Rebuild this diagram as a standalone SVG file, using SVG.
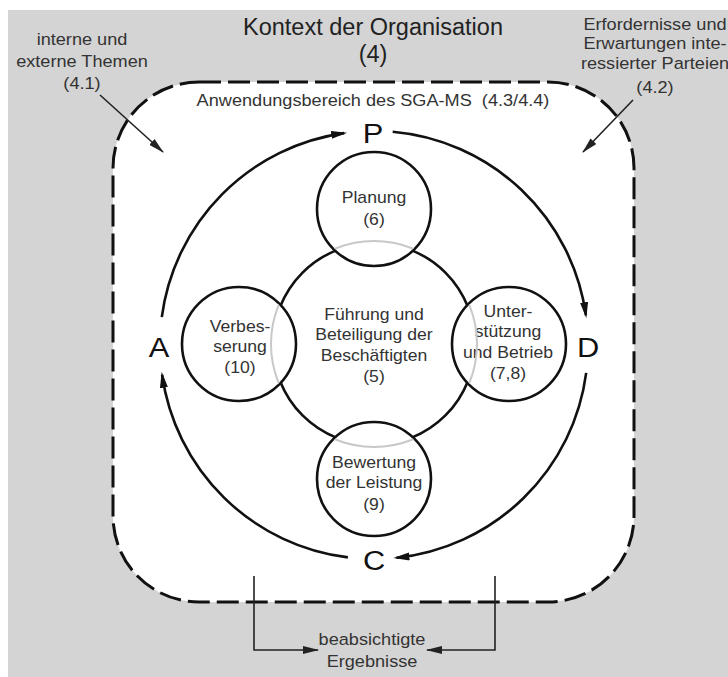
<svg xmlns="http://www.w3.org/2000/svg" width="728" height="677" viewBox="0 0 728 677">
  <defs>
    <style>
      .lbl { font-family: "Liberation Sans", Arial, sans-serif; font-size: 16.5px; fill: #333; text-anchor: middle; }
      .in { font-family: "Liberation Sans", Arial, sans-serif; font-size: 16px; fill: #333; text-anchor: middle; }
      .big { font-family: "Liberation Sans", Arial, sans-serif; font-size: 28px; fill: #111; text-anchor: middle; }
      .title { font-family: "Liberation Sans", Arial, sans-serif; font-size: 23.5px; fill: #222; text-anchor: middle; }
      .circ { fill: #fff; stroke: #111; stroke-width: 2.6; }
      .arc { fill: none; stroke: #111; stroke-width: 2.6; }
      .thin { fill: none; stroke: #222; stroke-width: 1.6; }
    </style>
    <marker id="ah" viewBox="0 0 16 8" refX="13" refY="4" markerWidth="16" markerHeight="8" markerUnits="userSpaceOnUse" orient="auto">
      <path d="M0,0 L16,4 L0,8 z" fill="#111"/>
    </marker>
    <marker id="ahs" viewBox="0 0 16 8" refX="15" refY="4" markerWidth="16" markerHeight="8" markerUnits="userSpaceOnUse" orient="auto">
      <path d="M0,0 L16,4 L0,8 z" fill="#222"/>
    </marker>
    <clipPath id="smallc">
      <circle cx="374" cy="209" r="56"/>
      <circle cx="509" cy="344" r="56"/>
      <circle cx="374" cy="479" r="56"/>
      <circle cx="239" cy="344" r="56"/>
    </clipPath>
  </defs>

  <rect x="0" y="0" width="728" height="677" fill="#ffffff"/>
  <rect x="8" y="10" width="720" height="667" fill="#d4d4d4"/>

  <g id="context">
    <text class="title" x="373" y="35">Kontext der Organisation</text>
    <text class="title" x="373" y="62">(4)</text>
  </g>

  <g id="themen">
    <text class="lbl" transform="translate(82 45) scale(1.1 1)"><tspan x="0" y="0">interne und</tspan><tspan x="0" y="22">externe Themen</tspan><tspan x="0" y="44">(4.1)</tspan></text>
  </g>

  <g id="parteien">
    <text class="lbl" transform="translate(655 30) scale(1.1 1)"><tspan x="0" y="0">Erfordernisse und</tspan><tspan x="0" y="19.5">Erwartungen inte-</tspan><tspan x="0" y="39">ressierter Parteien</tspan><tspan x="0" y="63">(4.2)</tspan></text>
  </g>

  <g id="scope">
    <rect x="113" y="82" width="521" height="520" rx="86" ry="86" fill="#ffffff" stroke="#111" stroke-width="3" stroke-dasharray="22 7"/>
    <text class="lbl" style="white-space:pre" transform="translate(373 106) scale(1.1 1)">Anwendungsbereich des SGA-MS  (4.3/4.4)</text>
  </g>

  <g id="fuehrung">
    <circle cx="374" cy="344" r="101" fill="#fff" stroke="#111" stroke-width="2.6"/>
  </g>

  <g id="planung">
    <circle class="circ" cx="374" cy="209" r="57"/>
    <text class="in" transform="translate(374 203) scale(1.1 1)"><tspan x="0" y="0">Planung</tspan><tspan x="0" y="22">(6)</tspan></text>
  </g>

  <g id="unterstuetzung">
    <circle class="circ" cx="509" cy="344" r="57"/>
    <text class="in" transform="translate(508 317) scale(1.1 1)"><tspan x="0" y="0">Unter-</tspan><tspan x="0" y="20.5">stützung</tspan><tspan x="0" y="41">und Betrieb</tspan><tspan x="0" y="62">(7,8)</tspan></text>
  </g>

  <g id="bewertung">
    <circle class="circ" cx="374" cy="479" r="57"/>
    <text class="in" transform="translate(374 468) scale(1.1 1)"><tspan x="0" y="0">Bewertung</tspan><tspan x="0" y="20.5">der Leistung</tspan><tspan x="0" y="42">(9)</tspan></text>
  </g>

  <g id="verbesserung">
    <circle class="circ" cx="239" cy="344" r="57"/>
    <text class="in" transform="translate(240 332) scale(1.1 1)"><tspan x="0" y="0">Verbes-</tspan><tspan x="0" y="20.5">serung</tspan><tspan x="0" y="41">(10)</tspan></text>
  </g>

  <g id="fuehrung-ghost">
    <circle cx="374" cy="344" r="103" fill="none" stroke="#c8c8c8" stroke-width="2" clip-path="url(#smallc)"/>
    <text class="in" transform="translate(374 320) scale(1.1 1)"><tspan x="0" y="0">Führung und</tspan><tspan x="0" y="20.5">Beteiligung der</tspan><tspan x="0" y="41">Beschäftigten</tspan><tspan x="0" y="62">(5)</tspan></text>
  </g>

  <g id="P"><text class="big" transform="translate(373 143) scale(1.1 1)">P</text></g>
  <g id="D"><text class="big" transform="translate(588 357) scale(1.1 1)">D</text></g>
  <g id="C"><text class="big" transform="translate(374 570) scale(1.1 1)">C</text></g>
  <g id="A"><text class="big" transform="translate(159 357) scale(1.1 1)">A</text></g>

  <g id="ergebnisse">
    <text class="lbl" transform="translate(372 645) scale(1.1 1)"><tspan x="0" y="0">beabsichtigte</tspan><tspan x="0" y="22">Ergebnisse</tspan></text>
  </g>

  <g id="connectors">
    <path class="arc" d="M161.8,317.1 A214,214 0 0 1 344.2,133.1" marker-end="url(#ah)"/>
    <path class="arc" d="M392.7,131.8 A214,214 0 0 1 585.9,315.2" marker-end="url(#ah)"/>
    <path class="arc" d="M586.2,372.9 A214,214 0 0 1 396.4,557.8" marker-end="url(#ah)"/>
    <path class="arc" d="M347.9,557.4 A214,214 0 0 1 162.1,374.8" marker-end="url(#ah)"/>
    <path class="thin" d="M100,95 L163,152" marker-end="url(#ahs)"/>
    <path class="thin" d="M633,100 L583,152" marker-end="url(#ahs)"/>
    <path class="thin" d="M254,576 L254,650 L318,650" marker-end="url(#ahs)"/>
    <path class="thin" d="M495,576 L495,650 L427,650" marker-end="url(#ahs)"/>
  </g>
</svg>
